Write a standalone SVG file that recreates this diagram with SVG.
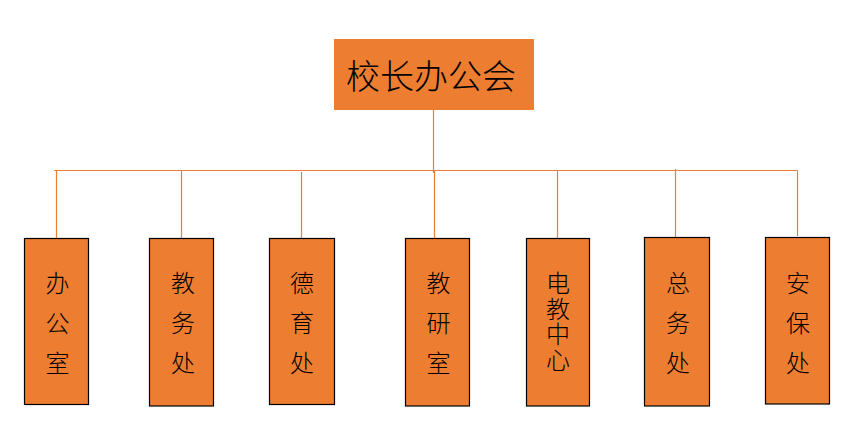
<svg xmlns="http://www.w3.org/2000/svg" width="856" height="437" viewBox="0 0 856 437">
<style>
.box{fill:#ED7D31;stroke:#000;stroke-width:1.2}
.top{fill:#ED7D31}
.ln{stroke:#ED7D31;stroke-width:1.2;fill:none}
text{font-family:"Noto Sans CJK SC","Noto Sans",sans-serif;font-weight:300;fill:#000;text-anchor:middle;dominant-baseline:central}
.t1{font-size:34px}
.t2{font-size:24px}
</style>
<rect width="856" height="437" fill="#fff"/>
<g id="connectors">
<line class="ln" x1="433.5" y1="110" x2="433.5" y2="173"/>
<line class="ln" x1="54" y1="170.5" x2="797.5" y2="170.5"/>
<line class="ln" x1="56.5" y1="170.5" x2="56.5" y2="238"/>
<line class="ln" x1="181.5" y1="170.5" x2="181.5" y2="238"/>
<line class="ln" x1="301.5" y1="172" x2="301.5" y2="238"/>
<line class="ln" x1="434.5" y1="170.5" x2="434.5" y2="238"/>
<line class="ln" x1="557.5" y1="170.5" x2="557.5" y2="238"/>
<line class="ln" x1="675.5" y1="169" x2="675.5" y2="237"/>
<line class="ln" x1="797.5" y1="170.5" x2="797.5" y2="236"/>
</g>
<g id="n0"><rect class="top" x="334" y="39" width="200" height="71"/><text class="t1" x="431" y="74">校长办公会</text></g>
<g id="n1"><rect class="box" x="24.5" y="238.5" width="64" height="166"/><text class="t2" x="57.5" y="281.5">办</text><text class="t2" x="57.5" y="321.5">公</text><text class="t2" x="57.5" y="361.5">室</text></g>
<g id="n2"><rect class="box" x="149.5" y="238.5" width="64" height="167.5"/><text class="t2" x="183" y="281.5">教</text><text class="t2" x="183" y="321.5">务</text><text class="t2" x="183" y="361.5">处</text></g>
<g id="n3"><rect class="box" x="269.5" y="238.5" width="65" height="166"/><text class="t2" x="302" y="281.5">德</text><text class="t2" x="302" y="321.5">育</text><text class="t2" x="302" y="361.5">处</text></g>
<g id="n4"><rect class="box" x="405.5" y="238.5" width="64" height="167.5"/><text class="t2" x="438.5" y="281.5">教</text><text class="t2" x="438.5" y="321.5">研</text><text class="t2" x="438.5" y="361.5">室</text></g>
<g id="n5"><rect class="box" x="526.5" y="238.5" width="63" height="167.5"/><text class="t2" x="558" y="281.5">电</text><text class="t2" x="558" y="307">教</text><text class="t2" x="558" y="332.5">中</text><text class="t2" x="558" y="358">心</text></g>
<g id="n6"><rect class="box" x="644.5" y="237.5" width="65" height="168.5"/><text class="t2" x="678" y="281.5">总</text><text class="t2" x="678" y="321.5">务</text><text class="t2" x="678" y="361.5">处</text></g>
<g id="n7"><rect class="box" x="765.5" y="237.5" width="64" height="166.5"/><text class="t2" x="798" y="281.5">安</text><text class="t2" x="798" y="321.5">保</text><text class="t2" x="798" y="361.5">处</text></g>
</svg>
